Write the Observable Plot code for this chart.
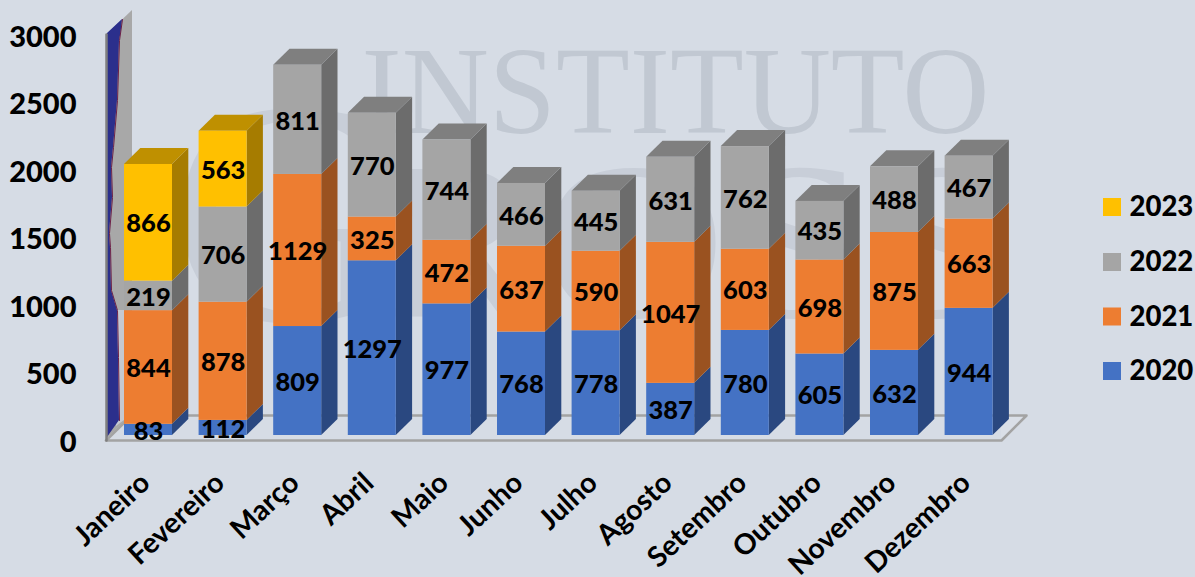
<!DOCTYPE html>
<html>
<head>
<meta charset="utf-8">
<style>
html,body{margin:0;padding:0;background:#d6dce5;overflow:hidden}
svg{display:block}
</style>
<script src="https://cdn.jsdelivr.net/npm/d3@7"></script>
<script src="https://cdn.jsdelivr.net/npm/@observablehq/plot@0.6"></script>
</head>
<body>
<div id="chart"></div>
<script>
const months = ["Janeiro","Fevereiro","Março","Abril","Maio","Junho","Julho","Agosto","Setembro","Outubro","Novembro","Dezembro"];
const v2020 = [83,112,809,1297,977,768,778,387,780,605,632,944];
const v2021 = [844,878,1129,325,472,637,590,1047,603,698,875,663];
const v2022 = [219,706,811,770,744,466,445,631,762,435,488,467];
const v2023 = [866,563,0,0,0,0,0,0,0,0,0,0];
const yTicks = [0,500,1000,1500,2000,2500,3000];
const seriesNames = ["2020","2021","2022","2023"];
const seriesValues = [v2020,v2021,v2022,v2023];
const frontColors = ["#4472c4","#ed7d31","#a5a5a5","#ffc000"];
const sideColors = ["#2a4880","#9a5220","#6c6c6c","#a67c00"];
const topColors = ["#2f5597","#c55a11","#7f7f7f","#bf9000"];

// scale geometry: months on a linear index, values on a linear axis
const W = 1195, H = 577;
const slot = 74.6, x0px = 148, pxPerUnit = 0.1347, basePx = 435;
const xu = px => (px - x0px) / slot;
const yv = py => (basePx - py) / pxPerUnit;
const half = 24 / slot, dx = 16.3 / slot, dy = 16 / pxPerUnit;

const segs = [], tops = [], sides = [];
months.forEach((m, i) => {
  let acc = 0, lastS = 0;
  seriesValues.forEach((vals, s) => {
    const v = vals[i];
    if (!v) return;
    segs.push({i, s, v, y1: acc, y2: acc + v});
    const b = i + half;
    sides.push({z:`${i}-${s}`, s, x:b, y1:acc, y2:acc+v});
    sides.push({z:`${i}-${s}`, s, x:b+dx, y1:acc+dy, y2:acc+v+dy});
    acc += v; lastS = s;
  });
  const a = i - half, b = i + half;
  [[a,acc,acc],[a+dx,acc,acc+dy],[b,acc,acc+dy],[b+dx,acc+dy,acc+dy]].forEach(([x,y1,y2]) =>
    tops.push({z:i, s:lastS, x, y1, y2}));
});

const floorPts = [[105.5,440],[131,415],[1026,415],[1001,440],[105.5,440]].map(([a,b])=>({x:xu(a),y:yv(b)}));
const wallPts = [{x:xu(107),y1:yv(438),y2:yv(34)},{x:xu(132),y1:yv(414),y2:yv(10)}];
const wallLow = [{x:xu(116),y1:yv(426),y2:yv(310)},{x:xu(124),y1:yv(420),y2:yv(310)}];
const waveEdge = [[122,19],[119,40],[117,100],[113,147],[111,167],[112,197],[109,233],[110,247],[111,290],[117,310],[118,357],[119,420]];
const bluePts = [{y:yv(19),x1:xu(122),x2:xu(122)},{y:yv(33),x1:xu(107),x2:xu(120.5)}]
  .concat(waveEdge.slice(1).map(([a,b])=>({y:yv(b),x1:xu(107),x2:xu(a)})))
  .concat([{y:yv(437),x1:xu(107),x2:xu(107)}]);
const waveLine = waveEdge.map(([a,b])=>({x:xu(a),y:yv(b)}));
const axisEdge = [{x:xu(106),y:yv(34)},{x:xu(106),y:yv(440)}];

const font = "Lato, Carlito, Calibri, sans-serif";
const serif = "'Liberation Serif', serif";

const marks = [
  // watermark
  Plot.text(["INSTITUTO"], {x:()=>xu(675), y:()=>yv(132), text:d=>d, fontFamily:serif, fontSize:124, fill:"#c1c8d2", lineAnchor:"bottom", textAnchor:"middle", className:"wm1"}),
  Plot.text(["G"], {x:()=>xu(285), y:()=>yv(320), text:d=>d, fontFamily:serif, fontSize:320, fill:"#c8ced8", lineAnchor:"bottom", textAnchor:"middle"}),
  Plot.text(["ROSS"], {x:()=>xu(690), y:()=>yv(316), text:d=>d, fontFamily:serif, fontSize:225, fill:"#c8ced8", lineAnchor:"bottom", textAnchor:"middle", className:"wm2"}),
  // floor
  Plot.area(floorPts.slice(0,4), {x1:"x", y1:d=>d.y, y2:()=>yv(415), fill:"#dadfe7"}),
  Plot.line(floorPts, {x:"x", y:"y", stroke:"#a3a3a3", strokeWidth:2.6, curve:"linear"}),
  // left wall
  Plot.area(wallPts, {x1:"x", y1:"y1", y2:"y2", fill:"#a8a8a8"}),
  Plot.area(wallLow, {x1:"x", y1:"y1", y2:"y2", fill:"#c5c9d1"}),
  Plot.area(bluePts, {y1:"y", x1:"x1", x2:"x2", fill:"#2b2f8c"}),
  Plot.line(waveLine, {x:"x", y:"y", stroke:"#6d2148", strokeWidth:1}),
  Plot.line(axisEdge, {x:"x", y:"y", stroke:"#7f7f7f", strokeWidth:2.5})
];

seriesNames.forEach((name, s) => {
  marks.push(Plot.area(sides.filter(d=>d.s===s), {x1:"x", y1:"y1", y2:"y2", z:"z", fill:sideColors[s]}));
  marks.push(Plot.area(tops.filter(d=>d.s===s), {x1:"x", y1:"y1", y2:"y2", z:"z", fill:topColors[s]}));
  marks.push(Plot.rect(segs.filter(d=>d.s===s), {x1:d=>d.i-half, x2:d=>d.i+half, y1:"y1", y2:"y2", fill:frontColors[s]}));
});

marks.push(
  Plot.text(segs, {x:"i", y:d=>(d.y1+d.y2)/2, dy:1.5, text:d=>String(d.v), fontFamily:font, fontWeight:900, fontSize:25.5, fill:"#000"}),
  Plot.text(yTicks, {x:()=>xu(76), y:d=>d*405/3000 / pxPerUnit - 5/pxPerUnit, dy:2, text:d=>String(d), textAnchor:"end", fontFamily:font, fontWeight:900, fontSize:29, fill:"#000"}),
  Plot.text(months, {x:(d,i)=>i, y:()=>yv(478), dx:-3, text:d=>d, rotate:-43, textAnchor:"end", fontFamily:font, fontWeight:700, fontSize:28.5, fill:"#000"}),
  // legend
  Plot.rect(seriesNames, {x1:()=>xu(1103), x2:()=>xu(1121), y1:(d,i)=>yv(371+9-[0,54.5,109,164][i]), y2:(d,i)=>yv(371-9-[0,54.5,109,164][i]), fill:(d,i)=>frontColors[i]}),
  Plot.text(seriesNames, {x:()=>xu(1129), y:(d,i)=>yv(371-[0,54.5,109,164][i]), text:d=>d, textAnchor:"start", fontFamily:font, fontWeight:900, fontSize:27.5, fill:"#000"})
);

const plot = Plot.plot({
  width:W, height:H, margin:0,
  style:{background:"#d6dce5"},
  color:{type:"identity"},
  x:{type:"linear", domain:[xu(0), xu(W)], range:[0,W], axis:null},
  y:{type:"linear", domain:[yv(H), yv(0)], range:[H,0], axis:null},
  marks
});
document.getElementById("chart").appendChild(plot);
d3.select(plot).selectAll(".wm1 text").attr("textLength",628).attr("lengthAdjust","spacingAndGlyphs");
d3.select(plot).selectAll(".wm2 text").attr("textLength",640).attr("lengthAdjust","spacingAndGlyphs");
</script>
</body>
</html>
